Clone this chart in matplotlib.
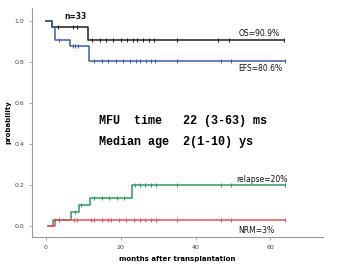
import numpy as np
import matplotlib
matplotlib.use("Agg")
import matplotlib.pyplot as plt

# step curves (time in months, value after the step)
os_t = [0, 1.6, 11.2, 63.5]
os_v = [1.0, 0.97, 0.909, 0.909]
os_cens = [3.2, 7.2, 8.3, 12.3, 14.4, 16.0, 17.9, 20.0, 21.6, 23.2, 24.5, 26.1, 27.5, 29.0, 35.0, 46.0, 49.0, 63.5]

efs_t = [0, 1.8, 2.4, 6.6, 11.5, 63.8]
efs_v = [1.0, 0.97, 0.909, 0.875, 0.806, 0.806]
efs_cens = [3.5, 7.2, 7.8, 8.5, 12.8, 14.9, 16.7, 18.7, 20.6, 22.6, 24.1, 25.3, 26.7, 28.0, 29.3, 35.0, 46.8, 49.6, 63.8]

rel_t = [0.5, 2.0, 6.8, 8.8, 11.9, 23.0, 64.0]
rel_v = [0.0, 0.03, 0.068, 0.1, 0.136, 0.2, 0.2]
rel_cens = [2.6, 3.5, 7.8, 9.5, 13.0, 14.9, 17.0, 19.0, 21.0, 23.8, 25.2, 26.6, 28.0, 29.4, 35.0, 46.8, 49.6, 64.0]

nrm_t = [0.5, 2.4, 64.0]
nrm_v = [0.0, 0.03, 0.03]
nrm_cens = [3.5, 7.5, 8.3, 12.0, 13.0, 15.0, 16.5, 17.5, 19.5, 21.5, 23.5, 25.2, 26.6, 28.0, 29.4, 35.0, 46.8, 49.6, 64.0]

curves = [
    (os_t, os_v, os_cens, "#1e1e1e"),
    (efs_t, efs_v, efs_cens, "#3f5ea8"),
    (rel_t, rel_v, rel_cens, "#2e9a5c"),
    (nrm_t, nrm_v, nrm_cens, "#e4505c"),
]

fig = plt.figure(figsize=(3.54, 2.65), dpi=100)
ax = fig.add_axes([0.090, 0.106, 0.822, 0.864])

for t, v, cens, col in curves:
    ax.step(t, v, where="post", color=col, lw=1.1)
    idx = np.searchsorted(t, cens, side="right") - 1
    cy = np.array(v)[idx]
    ax.plot(cens, cy, ls="none", marker="|", ms=3.5, mew=0.7, color=col)

ax.set_xlim(-3.7, 74)
ax.set_ylim(-0.054, 1.063)
ax.set_xticks([0, 20, 40, 60])
ax.set_yticks([0.0, 0.2, 0.4, 0.6, 0.8, 1.0])
ax.set_yticklabels(["0.0", "0.2", "0.4", "0.6", "0.8", "1.0"])
ax.tick_params(labelsize=4.5, labelcolor="#444444", length=2, width=0.5, color="#888888")
for s in ["top", "right"]:
    ax.spines[s].set_visible(False)
for s in ["left", "bottom"]:
    ax.spines[s].set_color("#999999")
    ax.spines[s].set_linewidth(0.8)

ax.set_xlabel("months after transplantation", fontsize=5, fontweight="bold", labelpad=5)
ax.set_ylabel("probability", fontsize=5, fontweight="bold", labelpad=2)

lab = dict(fontsize=5.5, color="#111111")
ax.text(5.0, 1.01, "n=33", fontweight="bold", **lab)
ax.text(51.5, 0.925, "OS=90.9%", **lab)
ax.text(51.5, 0.755, "EFS=80.6%", **lab)
ax.text(51.0, 0.215, "relapse=20%", **lab)
ax.text(51.5, -0.035, "NRM=3%", **lab)

big = dict(fontsize=8.5, fontweight="bold", family="Liberation Mono", color="#000000")
ax.text(14.3, 0.497, "MFU  time   22 (3-63) ms", **big)
ax.text(14.3, 0.392, "Median age  2(1-10) ys", **big)

fig.savefig("out.png", dpi=100)
